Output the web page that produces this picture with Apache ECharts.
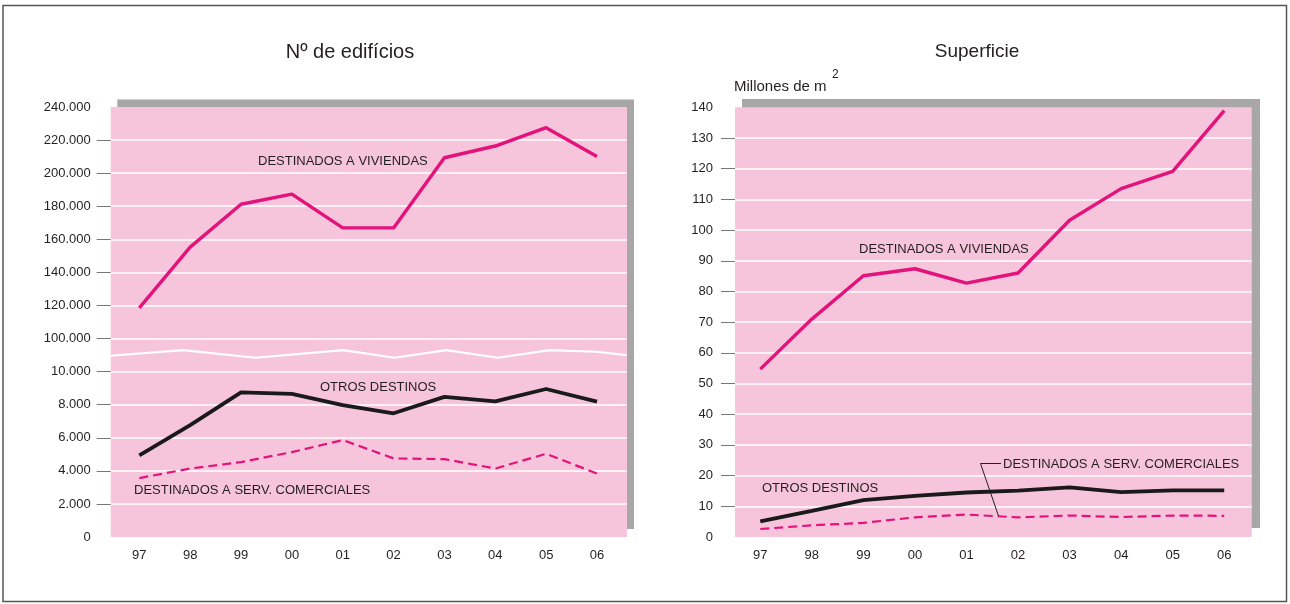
<!DOCTYPE html>
<html>
<head>
<meta charset="utf-8">
<script src="https://cdn.jsdelivr.net/npm/echarts@6/dist/echarts.min.js"></script>
<style>
  html, body { margin: 0; padding: 0; background: #fff; }
  #chart { width: 1290px; height: 604px; }
</style>
</head>
<body>
<div id="chart"></div>
<script>
// ---------- data ----------
const years = ['97', '98', '99', '00', '01', '02', '03', '04', '05', '06'];

// Nº de edificios
const leftViviendas = [118500, 155300, 181200, 187300, 166900, 166900, 209300, 216400, 227500, 210100];
const leftOtros     = [4930, 6770, 8750, 8650, 7980, 7480, 8470, 8200, 8950, 8180];
const leftServ      = [3560, 4140, 4530, 5130, 5860, 4750, 4710, 4140, 5030, 3840];
const leftTickLabels = ['0', '2.000', '4.000', '6.000', '8.000', '10.000',
  '100.000', '120.000', '140.000', '160.000', '180.000', '200.000', '220.000', '240.000'];

// Superficie (millones de m2)
const rightViviendas = [54.7, 71.0, 85.1, 87.4, 82.7, 86.0, 103.2, 113.5, 119.1, 138.9];
const rightOtros     = [5.1, 8.5, 12.0, 13.4, 14.5, 15.1, 16.2, 14.6, 15.2, 15.2];
const rightServ      = [2.6, 3.8, 4.6, 6.4, 7.3, 6.4, 7.0, 6.5, 7.0, 6.9];

// axis-break wave (fraction of plot width, broken-axis index)
const breakWaveX = [0, 0.14, 0.28, 0.45, 0.55, 0.65, 0.75, 0.85, 0.94, 1.0];
const breakWaveY = [5.48, 5.65, 5.42, 5.65, 5.42, 5.65, 5.42, 5.65, 5.6, 5.5];

// ---------- helpers ----------
// broken axis: 0..10.000 in steps of 2.000, then 100.000..240.000 in steps of 20.000
function brk(v) {
  return v <= 10000 ? v / 2000 : 6 + (v - 100000) / 20000;
}
const FONT = '"Liberation Sans", Arial, Helvetica, sans-serif';
const TXT = '#231f20';
const PINK_BG = '#f6c5db';
const SHADOW = '#a8a6a6';
const MAGENTA = '#e3137b';
const BLACK = '#1a1a1a';

const chart = echarts.init(document.getElementById('chart'), null, { renderer: 'canvas' });

const leftInterior = [];
for (let i = 1; i < leftTickLabels.length - 1; i++) leftInterior.push(i);
const rightInterior = [];
for (let v = 10; v < 140; v += 10) rightInterior.push(v);

const labelStyle = { color: TXT, fontFamily: FONT, fontSize: 13 };

const option = {
  animation: false,
  backgroundColor: '#fff',
  title: [
    { text: 'Nº de edifícios', left: 345, top: 37, textAlign: 'center',
      textStyle: { color: TXT, fontFamily: FONT, fontSize: 20, fontWeight: 'normal' } },
    { text: 'Superficie', left: 972, top: 37, textAlign: 'center',
      textStyle: { color: TXT, fontFamily: FONT, fontSize: 19, fontWeight: 'normal' } }
  ],
  grid: [
    // series grids (category alignment)
    { left: 113.9, top: 107, width: 508.5, height: 430 },
    { left: 734.5, top: 107.3, width: 515.5, height: 429.7 },
    // plot-area grids (pink area, axis labels & gridlines)
    { left: 110.7, top: 107, width: 516.3, height: 430 },
    { left: 735, top: 107.3, width: 516.7, height: 429.7 }
  ],
  xAxis: [
    { type: 'category', gridIndex: 0, data: years, boundaryGap: true,
      axisLine: { show: false }, axisTick: { show: false },
      axisLabel: Object.assign({ margin: 12 }, labelStyle) },
    { type: 'category', gridIndex: 1, data: years, boundaryGap: true,
      axisLine: { show: false }, axisTick: { show: false },
      axisLabel: Object.assign({ margin: 12 }, labelStyle) },
    { type: 'value', gridIndex: 2, min: 0, max: 1, show: false },
    { type: 'value', gridIndex: 3, min: 0, max: 1, show: false }
  ],
  yAxis: [
    { type: 'value', gridIndex: 0, min: 0, max: 13, interval: 1, show: false },
    { type: 'value', gridIndex: 1, min: 0, max: 140, interval: 10, show: false },
    { type: 'value', gridIndex: 2, min: 0, max: 13, interval: 1,
      axisLine: { show: false },
      axisTick: { show: true, length: 14, customValues: leftInterior,
        lineStyle: { color: '#777', width: 1 } },
      axisLabel: Object.assign({ margin: 20, formatter: (v) => leftTickLabels[Math.round(v)] }, labelStyle),
      splitLine: { show: true, lineStyle: { color: '#ffffff', width: 1.5 } } },
    { type: 'value', gridIndex: 3, min: 0, max: 140, interval: 10,
      axisLine: { show: false },
      axisTick: { show: true, length: 14, customValues: rightInterior,
        lineStyle: { color: '#777', width: 1 } },
      axisLabel: Object.assign({ margin: 22 }, labelStyle),
      splitLine: { show: true, lineStyle: { color: '#ffffff', width: 1.5 } } }
  ],
  series: [
    // break wave (decorative axis break marker)
    { type: 'line', xAxisIndex: 2, yAxisIndex: 2, symbol: 'none', silent: true, z: 1,
      data: breakWaveX.map((x, i) => [x, breakWaveY[i]]),
      lineStyle: { color: '#ffffff', width: 2.2 } },

    { name: 'Viviendas', type: 'line', xAxisIndex: 0, yAxisIndex: 0, symbol: 'none',
      data: leftViviendas.map(brk), lineStyle: { color: MAGENTA, width: 3.4 } },
    { name: 'Otros', type: 'line', xAxisIndex: 0, yAxisIndex: 0, symbol: 'none',
      data: leftOtros.map(brk), lineStyle: { color: BLACK, width: 3.8 } },
    { name: 'Serv', type: 'line', xAxisIndex: 0, yAxisIndex: 0, symbol: 'none',
      data: leftServ.map(brk), lineStyle: { color: MAGENTA, width: 2.2, type: [9, 5] } },

    { name: 'Viviendas m2', type: 'line', xAxisIndex: 1, yAxisIndex: 1, symbol: 'none',
      data: rightViviendas, lineStyle: { color: MAGENTA, width: 3.4 } },
    { name: 'Otros m2', type: 'line', xAxisIndex: 1, yAxisIndex: 1, symbol: 'none',
      data: rightOtros, lineStyle: { color: BLACK, width: 3.8 } },
    { name: 'Serv m2', type: 'line', xAxisIndex: 1, yAxisIndex: 1, symbol: 'none',
      data: rightServ, lineStyle: { color: MAGENTA, width: 2.2, type: [9, 5] } }
  ],
  graphic: [
    // outer frame
    { type: 'rect', z: -10, shape: { x: 3, y: 5.5, width: 1283.5, height: 596 },
      style: { fill: 'none', stroke: '#555', lineWidth: 1.5 } },
    // shadows
    { type: 'rect', z: -6, shape: { x: 117.3, y: 99.5, width: 516.7, height: 429.5 }, style: { fill: SHADOW } },
    { type: 'rect', z: -6, shape: { x: 742, y: 99, width: 518, height: 429 }, style: { fill: SHADOW } },
    // pink plot areas
    { type: 'rect', z: -5, shape: { x: 110.7, y: 107, width: 516.3, height: 430 }, style: { fill: PINK_BG } },
    { type: 'rect', z: -5, shape: { x: 735, y: 107.3, width: 516.7, height: 429.7 }, style: { fill: PINK_BG } },

    // unit label
    { type: 'text', z: 10, x: 734, y: 87, style: { text: 'Millones de m', fill: TXT, font: '15px ' + FONT, textVerticalAlign: 'middle' } },
    { type: 'text', z: 10, x: 832, y: 75, style: { text: '2', fill: TXT, font: '12px ' + FONT, textVerticalAlign: 'middle' } },

    // left annotations
    { type: 'text', z: 10, x: 258, y: 161, style: { text: 'DESTINADOS A VIVIENDAS', fill: TXT, font: '13px ' + FONT, textVerticalAlign: 'middle' } },
    { type: 'text', z: 10, x: 320, y: 387, style: { text: 'OTROS DESTINOS', fill: TXT, font: '13px ' + FONT, textVerticalAlign: 'middle' } },
    { type: 'text', z: 10, x: 134, y: 490, style: { text: 'DESTINADOS A SERV. COMERCIALES', fill: TXT, font: '13px ' + FONT, textVerticalAlign: 'middle' } },

    // right annotations
    { type: 'text', z: 10, x: 859, y: 249, style: { text: 'DESTINADOS A VIVIENDAS', fill: TXT, font: '13px ' + FONT, textVerticalAlign: 'middle' } },
    { type: 'text', z: 10, x: 762, y: 488, style: { text: 'OTROS DESTINOS', fill: TXT, font: '13px ' + FONT, textVerticalAlign: 'middle' } },
    { type: 'text', z: 10, x: 1003, y: 464, style: { text: 'DESTINADOS A SERV. COMERCIALES', fill: TXT, font: '13px ' + FONT, textVerticalAlign: 'middle' } },
    { type: 'polyline', z: 10, shape: { points: [[1001, 463.5], [980.5, 463.5], [998.5, 516]] },
      style: { stroke: '#222', lineWidth: 1, fill: 'none' } }
  ]
};

chart.setOption(option);
</script>
</body>
</html>
